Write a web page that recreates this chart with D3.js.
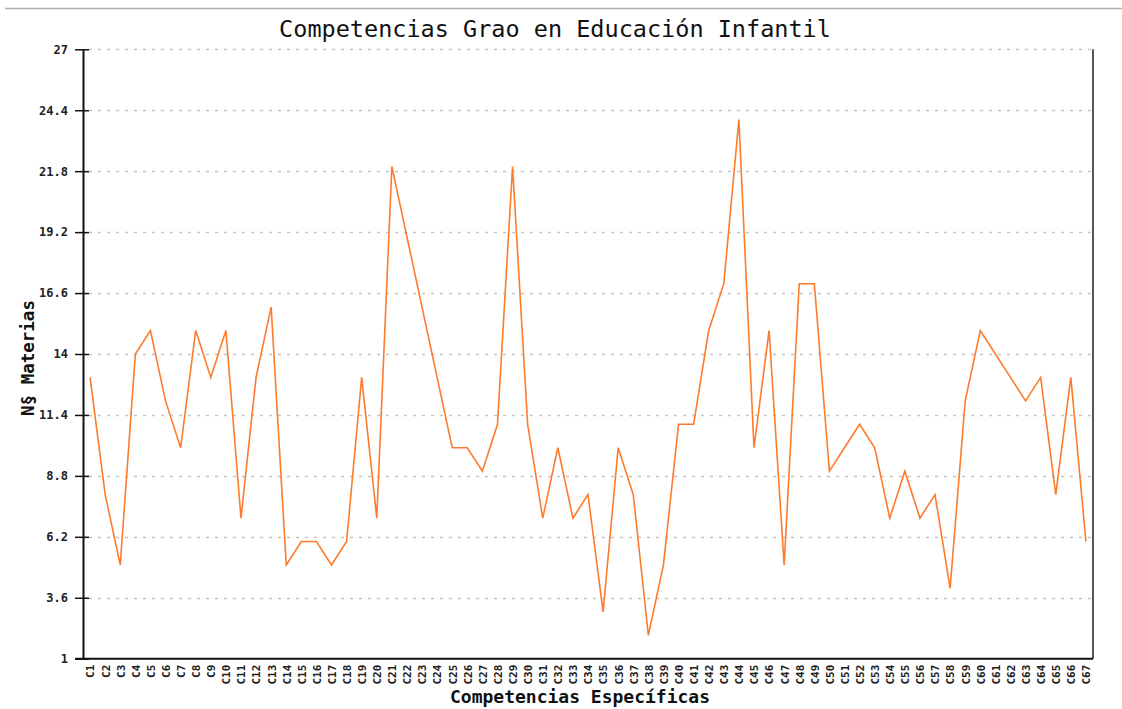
<!DOCTYPE html>
<html>
<head>
<meta charset="utf-8">
<script src="https://cdn.jsdelivr.net/npm/d3@7"></script>
<style>
  body { margin: 0; background: #fff; }
  svg { display: block; }
</style>
</head>
<body>
<div class="lineChart"></div>
<script>
(function(){
// competencias C1..C67
var categories = [];
for (var i = 1; i <= 67; i++) categories.push('C' + i);

// number of materias per competencia
var materias = [13, 8, 5, 14, 15, 12, 10, 15, 13, 15,
  7, 13, 16, 5, 6, 6, 5, 6, 13, 7,
  22, 19, 16, 13, 10, 10, 9, 11, 22, 11,
  7, 10, 7, 8, 3, 10, 8, 2, 5, 11,
  11, 15, 17, 24, 10, 15, 5, 17, 17, 9,
  10, 11, 10, 7, 9, 7, 8, 4, 12, 15,
  14, 13, 12, 13, 8, 13, 6];

var yTicks = [1, 3.6, 6.2, 8.8, 11.4, 14, 16.6, 19.2, 21.8, 24.4, 27];

var titleText = 'Competencias Grao en Educación Infantil';
var xTitle = 'Competencias Específicas';
var yTitle = 'N§ Materias';

var W = 1122, H = 709;
var left = 83, right = 1093, top = 49.3, bottom = 658.7;
var mono = '"DejaVu Sans Mono", monospace';

var svg = d3.select('.lineChart').append('svg').attr('width', W).attr('height', H);

// thin grey rule along the top of the page
svg.append('line')
  .attr('x1', 5).attr('x2', W).attr('y1', 8.5).attr('y2', 8.5)
  .style('stroke', '#b0b0b0').style('stroke-width', 1.5);

var x = d3.scalePoint().domain(categories).range([left, right]).padding(0.47);
var y = d3.scaleLinear().domain([1, 27]).range([bottom, top]);

// dotted grid
svg.append('g').selectAll('line').data(yTicks.slice(1)).enter()
  .append('line')
  .attr('x1', left + 6).attr('x2', right)
  .attr('y1', function(d){ return Math.round(y(d)) + 0.5; })
  .attr('y2', function(d){ return Math.round(y(d)) + 0.5; })
  .style('stroke', '#c4c4c4')
  .style('stroke-width', 1.5)
  .style('stroke-dasharray', '3,6');

// right frame
svg.append('line')
  .attr('x1', right).attr('x2', right).attr('y1', top).attr('y2', bottom)
  .style('stroke', '#555').style('stroke-width', 2);

// the line itself
var line = d3.line()
  .x(function(d, i){ return x(categories[i]); })
  .y(function(d){ return y(d); });

svg.append('path')
  .datum(materias)
  .attr('d', line)
  .style('fill', 'none')
  .style('stroke', '#ff7a2a')
  .style('stroke-width', 1.6);

// y axis
var yAxis = svg.append('g')
  .attr('transform', 'translate(' + left + ',0)')
  .call(d3.axisLeft(y).tickValues(yTicks).tickSize(8).tickSizeOuter(0)
    .tickFormat(function(d){ return d3.format('')(+d.toFixed(1)); }));
yAxis.select('.domain').style('stroke', '#111').style('stroke-width', 2);
yAxis.selectAll('.tick line').attr('x1', 6).style('stroke', '#111').style('stroke-width', 1.5);
yAxis.selectAll('.tick text')
  .attr('x', -15)
  .style('font-family', mono).style('font-size', '12px').style('font-weight', 'bold')
  .style('fill', '#222');

// x axis
var xAxis = svg.append('g')
  .attr('transform', 'translate(0,' + bottom + ')')
  .call(d3.axisBottom(x).tickSize(0).tickSizeOuter(0));
xAxis.select('.domain')
  .attr('d', 'M' + (left - 8) + ',0H' + right)
  .style('stroke', '#111').style('stroke-width', 2);
xAxis.selectAll('.tick text')
  .attr('transform', 'rotate(-90)')
  .attr('x', -6).attr('y', 0).attr('dy', '0.35em')
  .style('text-anchor', 'end')
  .style('font-family', mono).style('font-size', '11px').style('font-weight', 'bold')
  .style('fill', '#222');

// titles
svg.append('text')
  .attr('x', 555).attr('y', 37)
  .attr('text-anchor', 'middle')
  .style('font-family', mono).style('font-size', '23.5px')
  .style('fill', '#111')
  .text(titleText);

svg.append('text')
  .attr('x', 580).attr('y', 703)
  .attr('text-anchor', 'middle')
  .style('font-family', mono).style('font-size', '18px').style('font-weight', 'bold')
  .style('fill', '#111')
  .text(xTitle);

svg.append('text')
  .attr('transform', 'translate(34,358) rotate(-90)')
  .attr('text-anchor', 'middle')
  .style('font-family', mono).style('font-size', '17.5px').style('font-weight', 'bold')
  .style('fill', '#111')
  .text(yTitle);
}).call(this);
</script>
</body>
</html>
